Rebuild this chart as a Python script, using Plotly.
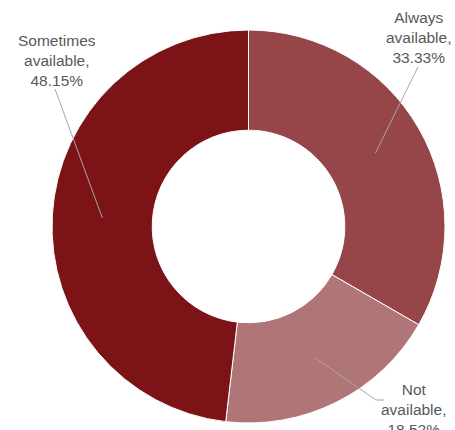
import math
import plotly.graph_objects as go

# Availability shares
categories = ["Always available", "Not available", "Sometimes available"]
shares = [33.33, 18.52, 48.15]
colors = ["#964549", "#b07577", "#7c1417"]

W, H = 455, 430
HOLE = 0.49

# Pie placement in pixels
left, right, top, bottom = 52, 445, 30, 423
cx, cy = (left + right) / 2, (top + bottom) / 2
R = min(right - left, bottom - top) / 2

# Label block centres and leader-line end points (pixels)
label_pos = [(419, 38), (414, 409), (57, 60)]
leader_end = [[(418, 67)], [(376, 400), (384, 400)], [(55, 89)]]


def px(x, y):
    return x / W, 1 - y / H


fig = go.Figure(go.Pie(
    labels=categories,
    values=shares,
    sort=False,
    direction="clockwise",
    rotation=0,
    hole=HOLE,
    marker=dict(colors=colors, line=dict(color="white", width=1)),
    textinfo="none",
    hoverinfo="label+percent",
    domain=dict(x=[left / W, right / W], y=[1 - bottom / H, 1 - top / H]),
    showlegend=False,
))

total = sum(shares)
start = 0.0
annotations = []
shapes = []
r_mid = (HOLE * R + R) / 2
for name, val, lp, ends in zip(categories, shares, label_pos, leader_end):
    mid = math.radians((start + val / 2) / total * 360)
    start += val
    ax_, ay_ = cx + r_mid * math.sin(mid), cy - r_mid * math.cos(mid)
    pts = [(ax_, ay_)] + ends
    path = "M " + " L ".join(f"{px(x, y)[0]},{px(x, y)[1]}" for x, y in pts)
    shapes.append(dict(type="path", xref="paper", yref="paper", path=path,
                       line=dict(color="#a6a6a6", width=1)))
    word, rest = name.split(" ", 1)
    x, y = px(*lp)
    annotations.append(dict(
        x=x, y=y, xref="paper", yref="paper", showarrow=False,
        text=f"{word}<br>{rest},<br>{val:.2f}%", align="center",
        xanchor="center", yanchor="middle",
        font=dict(family="Liberation Sans, Arial, sans-serif", size=15.5, color="#595959"),
    ))

fig.update_layout(
    width=W, height=H,
    margin=dict(l=0, r=0, t=0, b=0),
    paper_bgcolor="white",
    plot_bgcolor="white",
    annotations=annotations,
    shapes=shapes,
)

fig.write_html("out.html")
